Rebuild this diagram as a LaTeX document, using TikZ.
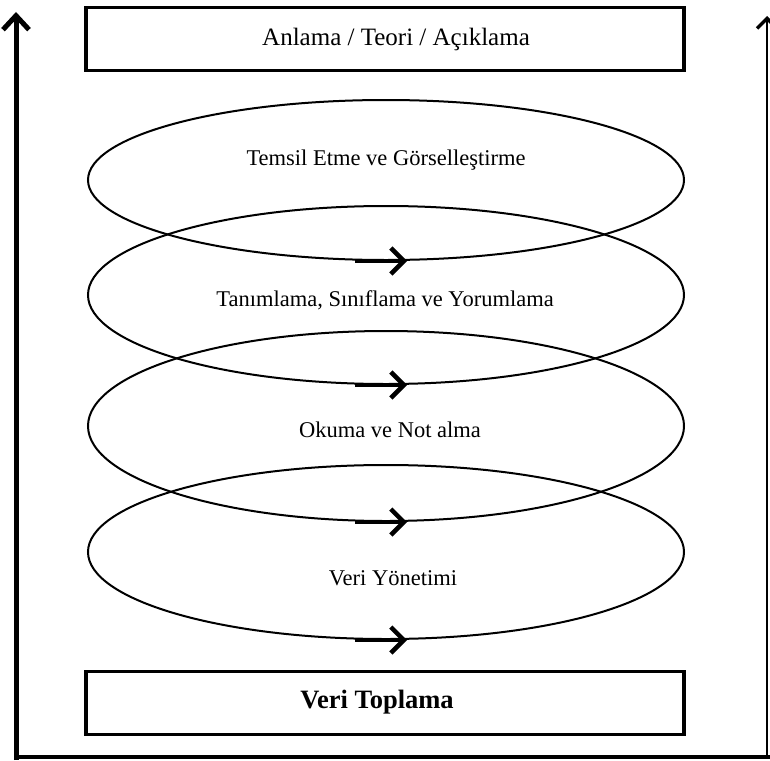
\documentclass[tikz,border=0pt]{standalone}
\usepackage{fontspec}
\setmainfont{Liberation Serif}
\usetikzlibrary{shapes.geometric,arrows.meta}

\tikzset{
  box/.style={draw, line width=3.2pt, minimum width=598pt, minimum height=63pt, inner sep=0pt},
  loop/.style={draw, ellipse, line width=2pt, minimum width=596pt, inner sep=0pt},
  flow/.style={line width=3.5pt, -{Straight Barb[length=13pt,width=26pt,line width=4.5pt]}},
  txt/.style={font=\fontsize{22.5}{27}\selectfont}
}

\begin{document}
\begin{tikzpicture}[x=1pt,y=-1pt]
\useasboundingbox (0,0) rectangle (770,760);
\draw[line width=5pt, -{Straight Barb[length=14pt,width=26pt,line width=5pt]}] (16,760) -- (16,12);
\draw[line width=4pt] (14,757) -- (772,757);
\draw[line width=1.2pt, -{Straight Barb[length=10pt,width=20pt,line width=3.5pt]}] (767,757) -- (767,16);

\node[box] (anlama) at (385,39) {};
\node[box] (toplama) at (385,703) {};
\node[font=\fontsize{25}{30}\selectfont] (anlamatxt) at (396,39) {Anlama / Teori / Açıklama};
\node[font=\fontsize{26.5}{31}\selectfont\bfseries] (toplamatxt) at (377,702) {Veri Toplama};

\node[loop, minimum height=160pt] (e1) at (386,180) {};
\node[loop, minimum height=178pt] (e2) at (386,295) {};
\node[loop, minimum height=190pt] (e3) at (386,426) {};
\node[loop, minimum height=174pt] (e4) at (386,552) {};

\node[txt] (t1) at (386,160) {Temsil Etme ve Görselleştirme};
\node[txt] (t2) at (385,300) {Tanımlama, Sınıflama ve Yorumlama};
\node[txt] (t3) at (390,430) {Okuma ve Not alma};
\node[txt] (t4) at (393,578) {Veri Yönetimi};

\draw[flow] ([xshift=-31pt]e1.south) -- ([xshift=21pt]e1.south);
\draw[flow] ([xshift=-31pt]e2.south) -- ([xshift=21pt]e2.south);
\draw[flow] ([xshift=-31pt]e3.south) -- ([xshift=21pt]e3.south);
\draw[flow] ([xshift=-31pt]e4.south) -- ([xshift=21pt]e4.south);
\end{tikzpicture}
\end{document}
